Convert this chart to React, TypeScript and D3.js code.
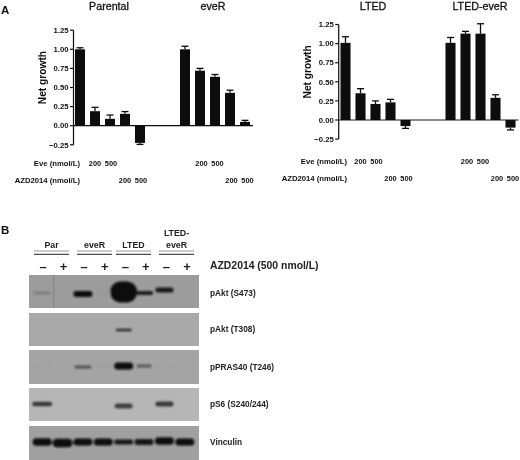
import React from "react";
import * as d3 from "d3";

const W = 520, H = 460;
const FONT = "Liberation Sans, Arial, sans-serif";

const ticks = [-0.25, 0, 0.25, 0.5, 0.75, 1, 1.25];
const slots = [0, 1, 2, 3, 4, 7, 8, 9, 10, 11];
const parentalEver = [1.0, 0.19, 0.09, 0.155, -0.225, 1.0, 0.72, 0.64, 0.43, 0.05];
const parentalErr = [0.02, 0.05, 0.05, 0.03, 0.02, 0.04, 0.03, 0.03, 0.035, 0.02];
const ltedEver = [1.01, 0.35, 0.21, 0.23, -0.08, 1.01, 1.13, 1.13, 0.29, -0.1];
const ltedErr = [0.08, 0.06, 0.04, 0.04, 0.03, 0.07, 0.03, 0.13, 0.04, 0.03];

const lanes = ["Par-", "Par+", "eveR-", "eveR+", "LTED-", "LTED+", "LE-", "LE+"];
const laneSigns = ["–", "+", "–", "+", "–", "+", "–", "+"];
// each blot: darkness [0-1], band width, band height, band centre offset per lane
const blotS473 = [0.3, 0.08, 1, 0.1, 1, 0.9, 0.95, 0.06];
const blotS473W = [17, 14, 19, 14, 27, 18, 18, 12];
const blotS473H = [2.5, 2, 6, 2, 21, 4, 5, 2];
const blotS473Y = [0, 0, 1, 0, -1, 0, -3, -1];
const blotT308 = [0, 0, 0, 0, 0.8, 0, 0, 0];
const blotT308W = [0, 0, 0, 0, 16, 0, 0, 0];
const blotT308H = [0, 0, 0, 0, 2.5, 0, 0, 0];
const blotT308Y = [0, 0, 0, 0, 0, 0, 0, 0];
const blotPras = [0.05, 0, 0.55, 0.08, 1, 0.5, 0.05, 0];
const blotPrasW = [14, 0, 17, 14, 19, 15, 16, 0];
const blotPrasH = [2, 0, 3, 2, 7, 3, 2, 0];
const blotPrasY = [0, 0, 1, 1, 0, 0, 0, 0];
const blotS6 = [0.7, 0, 0, 0, 0.65, 0, 0.7, 0];
const blotS6W = [20, 0, 0, 0, 18, 0, 18, 0];
const blotS6H = [4.5, 0, 0, 0, 5, 0, 5, 0];
const blotS6Y = [0, 0, 0, 0, 2, 0, 0, 0];
const blotVinc = [1, 1, 1, 1, 0.95, 0.95, 1, 1];
const blotVincW = [19, 20, 19, 19, 19, 19, 19, 19];
const blotVincH = [7.5, 8.5, 7, 7, 5, 6, 7.5, 7];
const blotVincY = [0, 1, 0, 0, 0, 0, -1, 0];

const blots = [
  { label: "pAkt (S473)", top: 275, bottom: 308, cy: 293, ty: 293, vals: blotS473, w: blotS473W, h: blotS473H, off: blotS473Y, bg: "#9c9c9c" },
  { label: "pAkt (T308)", top: 313, bottom: 346, cy: 330, ty: 329, vals: blotT308, w: blotT308W, h: blotT308H, off: blotT308Y, bg: "#a9a9a9" },
  { label: "pPRAS40 (T246)", top: 350, bottom: 384, cy: 366, ty: 367, vals: blotPras, w: blotPrasW, h: blotPrasH, off: blotPrasY, bg: "#a4a4a4" },
  { label: "pS6 (S240/244)", top: 388, bottom: 421, cy: 404, ty: 404, vals: blotS6, w: blotS6W, h: blotS6H, off: blotS6Y, bg: "#b6b6b6" },
  { label: "Vinculin", top: 426, bottom: 460, cy: 442, ty: 442, vals: blotVinc, w: blotVincW, h: blotVincH, off: blotVincY, bg: "#a0a0a0" },
];

const groupLabels = [
  { lines: ["Par"], x0: 34, x1: 69 },
  { lines: ["eveR"], x0: 77, x1: 112 },
  { lines: ["LTED"], x0: 116, x1: 151 },
  { lines: ["LTED-", "eveR"], x0: 159, x1: 194 },
];

function BarPanel({ axisX, y0, titles, titleX, values, errs, x0, doseEve, doseAzd, labelX }: any) {
  const y = d3.scaleLinear().domain([0, 1.25]).range([y0, y0 - 95.5]);
  const x = d3.scaleLinear().domain([0, 11]).range([x0, x0 + 165]);
  const fmt = d3.format(".2f");
  return (
    <g fontFamily={FONT} fontWeight="bold" fill="#111">
      {titles.map((t: string, i: number) => (
        <text key={t} x={titleX[i]} y={9.5} fontSize={10.7} textAnchor="middle" fontWeight="normal" stroke="#111" strokeWidth={0.3}>{t}</text>
      ))}
      <text transform={`translate(${axisX - 27.5},${y(0.63)}) rotate(-90)`} fontSize={10.2} textAnchor="middle">Net growth</text>
      {slots.map((s, i) => {
        const v = values[i], e = errs[i];
        const tip = v >= 0 ? y(v + e) : y(v - e);
        return (
          <g key={i}>
            <line x1={x(s)} x2={x(s)} y1={y(v)} y2={tip} stroke="#111" strokeWidth={1.3} />
            <line x1={x(s) - 3.5} x2={x(s) + 3.5} y1={tip} y2={tip} stroke="#111" strokeWidth={1.3} />
            <rect x={x(s) - 5} width={10} y={Math.min(y(v), y(0))} height={Math.abs(y(v) - y(0))} fill="#0c0c0c" />
          </g>
        );
      })}
      <line x1={axisX} x2={axisX} y1={y(1.25)} y2={y(-0.25)} stroke="#111" strokeWidth={1.2} />
      <line x1={axisX} x2={x0 + 173} y1={y0} y2={y0} stroke="#111" strokeWidth={1.2} />
      {ticks.map((t) => (
        <g key={t}>
          <line x1={axisX - 3.5} x2={axisX} y1={y(t)} y2={y(t)} stroke="#111" strokeWidth={1.2} />
          <text x={axisX - 5} y={y(t) + 2.7} fontSize={7.7} textAnchor="end">{t < 0 ? "−" + fmt(-t) : fmt(t)}</text>
        </g>
      ))}
      <text x={labelX} y={doseEve + 2.7} fontSize={7.7} textAnchor="end">Eve (nmol/L)</text>
      <text x={labelX} y={doseAzd + 2.7} fontSize={7.7} textAnchor="end">AZD2014 (nmol/L)</text>
      {[1, 2, 8, 9].map((s, i) => (
        <text key={s} x={x(s) + (s > 5 ? 1.5 : 0) + (i % 2) * 1} y={doseEve + 2.7} fontSize={7.4} textAnchor="middle">{i % 2 === 0 ? "200" : "500"}</text>
      ))}
      {[3, 4, 10, 11].map((s, i) => (
        <text key={s} x={x(s) + (s > 5 ? 1.5 : 0) + (i % 2) * 1} y={doseAzd + 2.7} fontSize={7.4} textAnchor="middle">{i % 2 === 0 ? "200" : "500"}</text>
      ))}
    </g>
  );
}

export default function App() {
  const laneX = d3.scaleBand().domain(lanes).range([32, 195]).padding(0);
  const laneC = (l: string) => (laneX(l) as number) + laneX.bandwidth() / 2;
  const signX = d3.scalePoint().domain(lanes).range([43, 187]);
  const shade = d3.scaleLinear<string>().domain([0, 1]).range(["#a8a8a8", "#0a0a0a"]);
  return (
    <svg width={W} height={H} viewBox={`0 0 ${W} ${H}`} style={{ position: "absolute", left: 0, top: 0, background: "#fff" }}>
      <defs>
        <filter id="soft" x="-20%" y="-60%" width="140%" height="220%"><feGaussianBlur stdDeviation="1" /></filter>
        <filter id="softText" x="-5%" y="-5%" width="110%" height="110%"><feGaussianBlur stdDeviation="0.3" /></filter>
      </defs>
      <g filter="url(#softText)">
        <text x={1} y={14} fontFamily={FONT} fontWeight="bold" fontSize={11.5} fill="#111">A</text>
        <text x={1} y={233.5} fontFamily={FONT} fontWeight="bold" fontSize={11.5} fill="#111">B</text>
        <BarPanel axisX={73.5} y0={125.7} titles={["Parental", "eveR"]} titleX={[109, 213]} values={parentalEver} errs={parentalErr}
          x0={80} doseEve={163} doseAzd={180.5} labelX={80} />
        <BarPanel axisX={338.7} y0={120} titles={["LTED", "LTED-eveR"]} titleX={[373, 480]} values={ltedEver} errs={ltedErr}
          x0={345.5} doseEve={161} doseAzd={178.7} labelX={347} />

        {groupLabels.map((g) => (
          <g key={g.x0} fontFamily={FONT} fontWeight="bold" fontSize={8.8} fill="#222" textAnchor="middle">
            {g.lines.map((l, i) => (
              <text key={l} x={(g.x0 + g.x1) / 2} y={247.5 - (g.lines.length - 1 - i) * 12} >{l}</text>
            ))}
            <line x1={g.x0} x2={g.x1} y1={251} y2={251} stroke="#999" strokeWidth={1} />
            <line x1={g.x0} x2={g.x1} y1={254.3} y2={254.3} stroke="#222" strokeWidth={1} />
          </g>
        ))}
        {lanes.map((l, i) => (
          <text key={l} x={signX(l)} y={270.5} fontFamily={FONT} fontWeight="bold" fontSize={13} textAnchor="middle" fill="#222">{laneSigns[i]}</text>
        ))}
        <text x={210} y={269} fontFamily={FONT} fontWeight="bold" fontSize={10.4} fill="#222">AZD2014 (500 nmol/L)</text>
        {blots.map((b) => (
          <text key={b.label} x={210} y={b.ty + 2.9} fontFamily={FONT} fontWeight="bold" fontSize={8.3} fill="#222">{b.label}</text>
        ))}
      </g>

      {blots.map((b) => (
        <g key={b.label}>
          <rect x={29} y={b.top} width={170} height={b.bottom - b.top} fill={b.bg} />
          <g filter="url(#soft)">
            {lanes.map((l, i) => b.vals[i] > 0 ? (
              <rect key={l} x={laneC(l) - b.w[i] / 2} width={b.w[i]} y={b.cy + b.off[i] - b.h[i] / 2} height={b.h[i]}
                rx={Math.min(b.h[i], b.w[i]) / 2} fill={shade(b.vals[i])} />
            ) : null)}
          </g>
        </g>
      ))}
      <line x1={53.7} x2={53.7} y1={275} y2={308} stroke="#777" strokeWidth={0.7} />
    </svg>
  );
}
